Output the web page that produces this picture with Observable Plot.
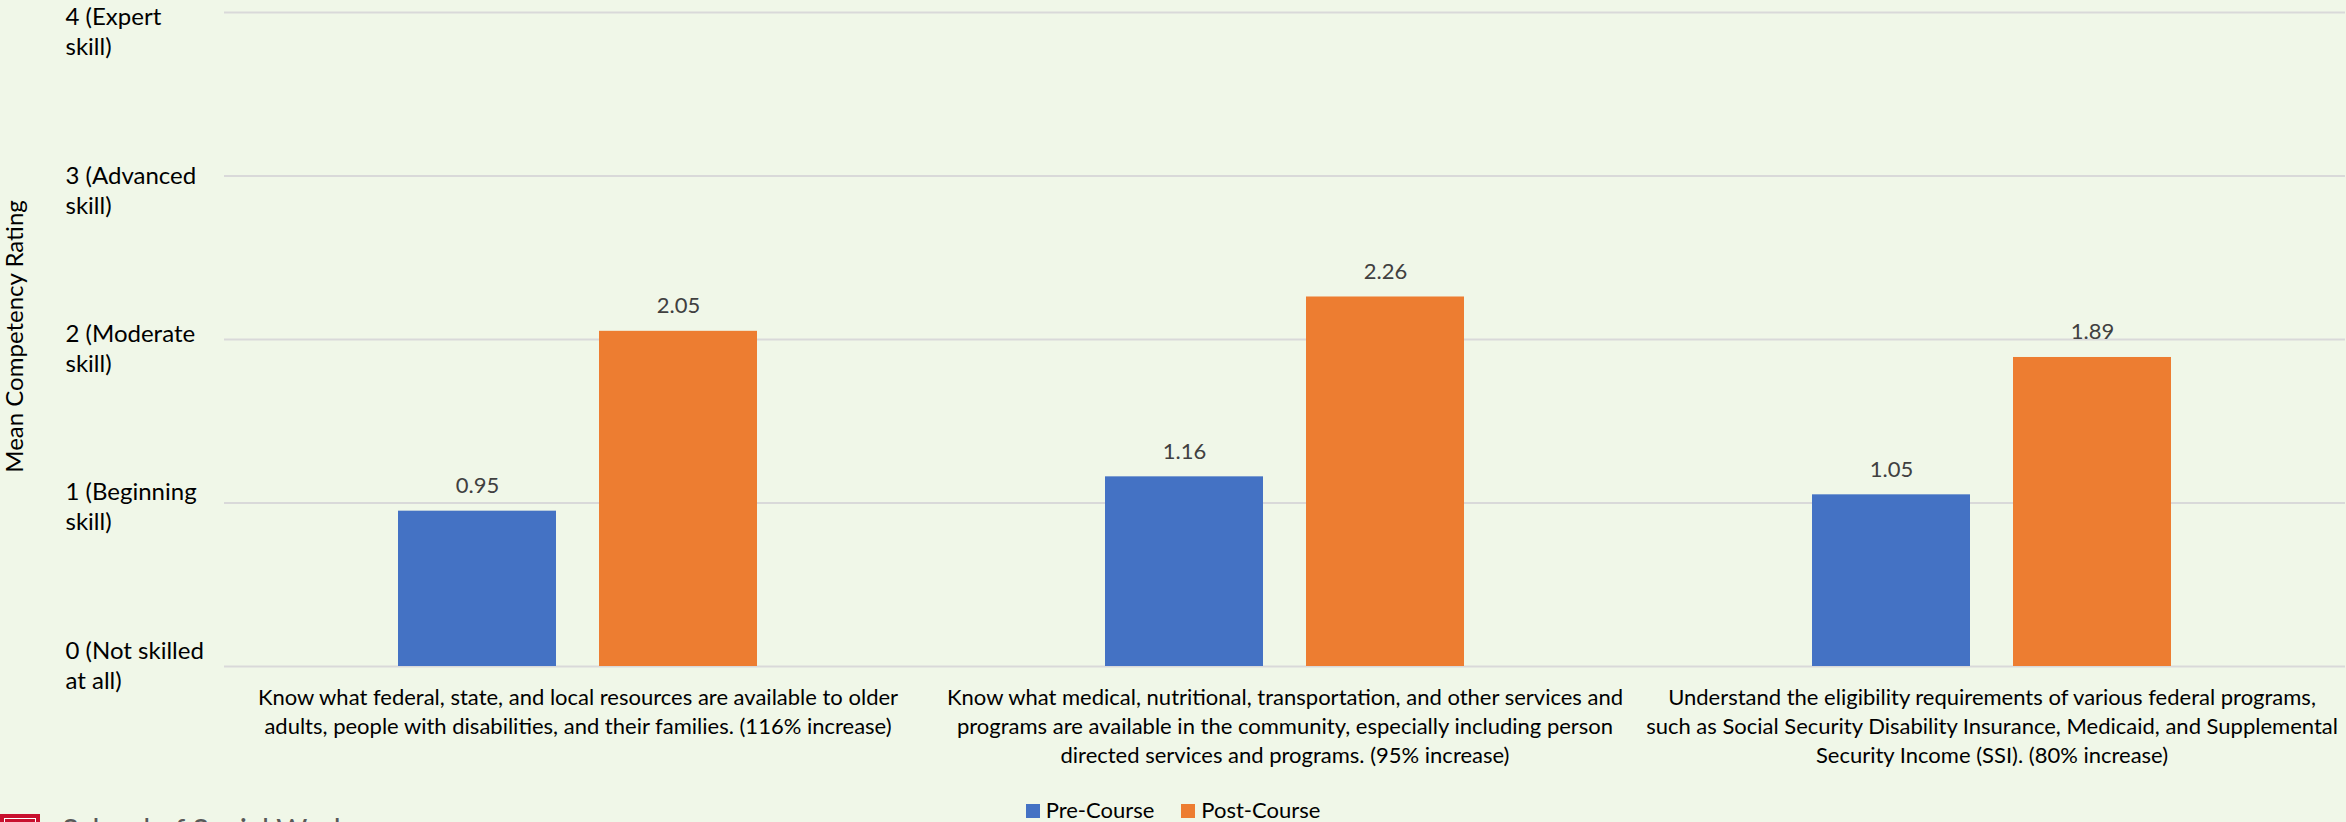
<!DOCTYPE html>
<html>
<head>
<meta charset="utf-8">
<script src="https://cdn.jsdelivr.net/npm/d3@7"></script>
<script src="https://cdn.jsdelivr.net/npm/@observablehq/plot@0.6"></script>
<style>
  html, body { margin: 0; padding: 0; background: #f0f7e8; width: 2346px; height: 822px; overflow: hidden; position: relative; }
  #chart svg { display: block; }
  #legend { position: absolute; left: 0; top: 797px; width: 2346px; text-align: center; font-family: Lato, sans-serif; font-size: 22px; line-height: 26px; color: #000; white-space: nowrap; }
  #legend .item { display: inline-block; }
  #legend .sw { display: inline-block; width: 14px; height: 14px; margin-right: 6px; vertical-align: baseline; }
  #legend .item + .item { margin-left: 27px; }
  #logo { position: absolute; left: 0; top: 814px; height: 30px; width: 40px; background: #c8102e; }
  #logo::after { content: ""; position: absolute; left: 4px; top: 4px; right: 4px; bottom: 4px; border: 1px solid #fff; }
  #logotext { position: absolute; left: 62px; top: 812px; font-family: Lato, sans-serif; font-size: 30px; line-height: 34px; color: #595959; white-space: nowrap; }
</style>
</head>
<body>
<div id="chart"></div>
<div id="legend"></div>
<div id="logo"></div>
<div id="logotext">School of Social Work</div>
<script>
const categories = [
  "Know what federal, state, and local resources are available to older adults, people with disabilities, and their families. (116% increase)",
  "Know what medical, nutritional, transportation, and other services and programs are available in the community, especially including person directed services and programs. (95% increase)",
  "Understand the eligibility requirements of various federal programs, such as Social Security Disability Insurance, Medicaid, and Supplemental Security Income (SSI). (80% increase)"
];
const categoryLabels = [
  "Know what federal, state, and local resources are available to older\nadults, people with disabilities, and their families. (116% increase)",
  "Know what medical, nutritional, transportation, and other services and\nprograms are available in the community, especially including person\ndirected services and programs. (95% increase)",
  "Understand the eligibility requirements of various federal programs,\nsuch as Social Security Disability Insurance, Medicaid, and Supplemental\nSecurity Income (SSI). (80% increase)"
];
const series = ["Pre-Course", "Post-Course"];
const preValues = [0.95, 1.16, 1.05];
const postValues = [2.05, 2.26, 1.89];
const yTicks = [0, 1, 2, 3, 4];
const yTickLabels = [
  "0 (Not skilled\nat all)",
  "1 (Beginning\nskill)",
  "2 (Moderate\nskill)",
  "3 (Advanced\nskill)",
  "4 (Expert\nskill)"
];
const yTitle = "Mean Competency Rating";
const colors = ["#4472C4", "#ED7D31"];

const data = categories.flatMap((c, i) => [
  {category: c, series: series[0], value: preValues[i]},
  {category: c, series: series[1], value: postValues[i]}
]);

const W = 2346, H = 790, mL = 223, mT = 12, mB = 124;
const fontY = 24, lhY = 1.25;

// Excel spreads the multi-line tick labels slightly differently from the gridlines
const yLabelDy = v => -29 + 5.1 * v;

const yAxes = yTicks.map((t, i) => Plot.axisY({
  ticks: [t],
  tickFormat: () => yTickLabels[i],
  tickSize: 0,
  tickPadding: 0,
  textAnchor: "start",
  dx: 64 - mL,
  dy: yLabelDy(t),
  lineAnchor: "top",
  lineHeight: lhY,
  fontSize: fontY,
  fill: "#000",
  label: null
}));

const chart = Plot.plot({
  width: W,
  height: H,
  marginLeft: mL,
  marginRight: 0,
  marginTop: mT,
  marginBottom: mB,
  style: {fontFamily: "Lato, sans-serif", background: "#f0f7e8", color: "#000", overflow: "visible"},
  fx: {domain: categories, padding: 0},
  x: {domain: series, paddingInner: 0.213, paddingOuter: 0.858, axis: null},
  y: {domain: [0, 4]},
  color: {domain: series, range: colors},
  marks: [
    Plot.gridY(yTicks, {stroke: "#d9d9d9", strokeOpacity: 1, strokeWidth: 2}),
    Plot.barY(data, {fx: "category", x: "series", y: "value", fill: "series"}),
    Plot.text(data, {
      fx: "category", x: "series", y: "value",
      text: d => d.value.toFixed(2),
      lineAnchor: "bottom", dy: -18,
      fontSize: 22, fill: "#404040"
    }),
    ...yAxes,
    Plot.axisFx({
      anchor: "bottom",
      tickSize: 0,
      tickPadding: 18,
      tickFormat: d => categoryLabels[categories.indexOf(d)],
      lineAnchor: "top",
      lineHeight: 1.32,
      fontSize: 22,
      fill: "#000",
      label: null
    }),
    Plot.text([yTitle], {
      fx: () => categories[0],
      text: d => d,
      frameAnchor: "left",
      rotate: -90,
      dx: 14 - mL,
      dy: -3,
      textAnchor: "middle",
      lineAnchor: "middle",
      fontSize: 24,
      fill: "#000"
    })
  ]
});
document.getElementById("chart").appendChild(chart);

const legend = document.getElementById("legend");
series.forEach((s, i) => {
  const item = document.createElement("span");
  item.className = "item";
  const sw = document.createElement("span");
  sw.className = "sw";
  sw.style.background = colors[i];
  item.appendChild(sw);
  item.appendChild(document.createTextNode(s));
  legend.appendChild(item);
});
</script>
</body>
</html>
